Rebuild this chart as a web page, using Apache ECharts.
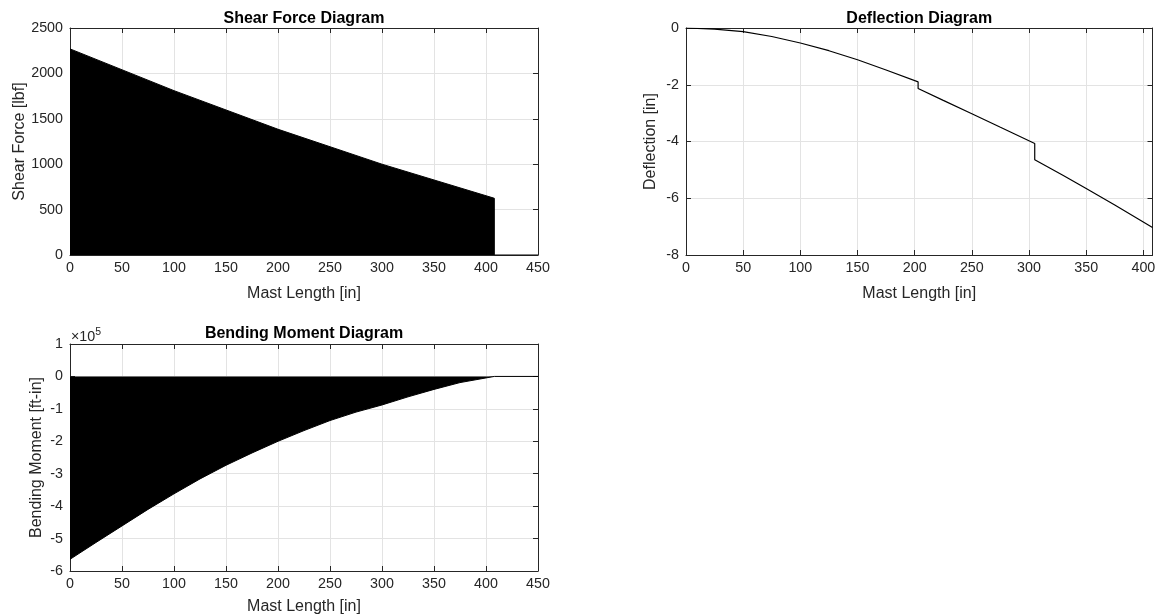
<!DOCTYPE html>
<html>
<head>
<meta charset="utf-8">
<script src="https://cdn.jsdelivr.net/npm/echarts@6/dist/echarts.min.js"></script>
<style>
html,body{margin:0;padding:0;background:#fff;}
#c{width:1161px;height:616px;}
</style>
</head>
<body>
<div id="c"></div>
<script>
// ---- data ----
const shearX = [0, 100, 200, 300, 408, 408, 450];
const shearV = [2270, 1810, 1385, 1000, 625, 0, 0];

const deflX = [0, 25, 50, 75, 100, 125, 150, 175, 203, 203, 225, 250, 275, 305, 305, 330, 350, 375, 408];
const deflV = [0, -0.04, -0.13, -0.3, -0.53, -0.8, -1.12, -1.48, -1.9, -2.13, -2.55, -3.02, -3.5, -4.07, -4.64, -5.2, -5.66, -6.24, -7.03];

const momentX = [0, 25, 50, 75, 100, 125, 150, 175, 200, 225, 250, 275, 300, 325, 350, 375, 408, 450];
const momentV = [-564000, -512000, -461000, -410000, -362000, -316000, -274000, -236000, -200000, -167000, -136000, -110000, -88000, -63000, -40000, -19000, 0, 0];

const titles = ['Shear Force Diagram', 'Deflection Diagram', 'Bending Moment Diagram'];
const xName = 'Mast Length [in]';
const yNames = ['Shear Force [lbf]', 'Deflection [in]', 'Bending Moment [ft-in]'];
const momentExponent = 5;

// ---- styling ----
const FONT = '"Liberation Sans", Arial, Helvetica, sans-serif';
const AX = '#262626';
const GRIDC = '#e3e3e3';
const TICKFS = 14.3;
const LABFS = 16;

const grids = [
  {left: 70, top: 28, width: 468, height: 227},
  {left: 686, top: 28, width: 466.5, height: 227},
  {left: 70, top: 344, width: 468, height: 228}
];

function zipXY(xs, ys){ return xs.map((x,i)=>[x, ys[i]]); }

function mainX(gi, max, nameGap){
  return {
    type: 'value', gridIndex: gi, position: 'bottom', min: 0, max: max, interval: 50,
    name: xName, nameLocation: 'middle', nameGap: nameGap,
    nameTextStyle: {fontFamily: FONT, fontSize: LABFS, color: AX},
    axisLine: {show: true, onZero: false, lineStyle: {color: AX, width: 1}},
    axisTick: {show: true, inside: true, length: 5, lineStyle: {color: AX}},
    axisLabel: {show: true, fontFamily: FONT, fontSize: TICKFS, color: AX, margin: 6, showMaxLabel: max % 50 === 0,
      formatter: v => (v % 50 === 0 ? String(v) : '')},
    splitLine: {show: true, lineStyle: {color: GRIDC, width: 1}}
  };
}
function topX(gi, max){
  return {
    type: 'value', gridIndex: gi, position: 'top', min: 0, max: max, interval: 50,
    axisLine: {show: true, onZero: false, lineStyle: {color: AX, width: 1}},
    axisTick: {show: true, inside: true, length: 5, lineStyle: {color: AX}},
    axisLabel: {show: false}, splitLine: {show: false}
  };
}
function mainY(gi, min, max, interval, name, nameGap, fmt){
  return {
    type: 'value', gridIndex: gi, position: 'left', min: min, max: max, interval: interval,
    name: name, nameLocation: 'middle', nameGap: nameGap,
    nameTextStyle: {fontFamily: FONT, fontSize: LABFS, color: AX},
    axisLine: {show: true, onZero: false, lineStyle: {color: AX, width: 1}},
    axisTick: {show: true, inside: true, length: 5, lineStyle: {color: AX}},
    axisLabel: {show: true, fontFamily: FONT, fontSize: TICKFS, color: AX, margin: 7, formatter: fmt},
    splitLine: {show: true, lineStyle: {color: GRIDC, width: 1}}
  };
}
function rightY(gi, min, max, interval){
  return {
    type: 'value', gridIndex: gi, position: 'right', min: min, max: max, interval: interval,
    axisLine: {show: true, onZero: false, lineStyle: {color: AX, width: 1}},
    axisTick: {show: true, inside: true, length: 5, lineStyle: {color: AX}},
    axisLabel: {show: false}, splitLine: {show: false}
  };
}

const chart = echarts.init(document.getElementById('c'), null, {renderer: 'canvas'});
const option = {
  animation: false,
  backgroundColor: '#fff',
  grid: grids.map(g => Object.assign({containLabel: false}, g)),
  xAxis: [
    mainX(0, 450, 31), topX(0, 450),
    mainX(1, 408, 31), topX(1, 408),
    mainX(2, 450, 28), topX(2, 450)
  ],
  yAxis: [
    mainY(0, 0, 2500, 500, yNames[0], 42, v => String(v)), rightY(0, 0, 2500, 500),
    mainY(1, -8, 0, 2, yNames[1], 27, v => String(v)), rightY(1, -8, 0, 2),
    mainY(2, -600000, 100000, 100000, yNames[2], 25, v => String(Math.round(v / Math.pow(10, momentExponent)))), rightY(2, -600000, 100000, 100000)
  ],
  series: [
    {type: 'line', xAxisIndex: 0, yAxisIndex: 0, data: zipXY(shearX, shearV), showSymbol: false, symbol: 'none',
      lineStyle: {color: '#000', width: 1}, areaStyle: {color: '#000', opacity: 1}},
    {type: 'line', xAxisIndex: 2, yAxisIndex: 2, data: zipXY(deflX, deflV), showSymbol: false, symbol: 'none',
      lineStyle: {color: '#000', width: 1.2}},
    {type: 'line', xAxisIndex: 4, yAxisIndex: 4, data: zipXY(momentX, momentV), showSymbol: false, symbol: 'none',
      lineStyle: {color: '#000', width: 1}, areaStyle: {color: '#000', opacity: 1}}
  ],
  graphic: [
    {type: 'text', x: 70 + 468 / 2, y: 18.5, style: {text: titles[0], fontFamily: FONT, fontSize: LABFS, fontWeight: 'bold', fill: '#000', align: 'center', verticalAlign: 'middle'}},
    {type: 'text', x: 686 + 466.5 / 2, y: 18.5, style: {text: titles[1], fontFamily: FONT, fontSize: LABFS, fontWeight: 'bold', fill: '#000', align: 'center', verticalAlign: 'middle'}},
    {type: 'text', x: 70 + 468 / 2, y: 334, style: {text: titles[2], fontFamily: FONT, fontSize: LABFS, fontWeight: 'bold', fill: '#000', align: 'center', verticalAlign: 'middle'}},
    {type: 'text', x: 71, y: 337, style: {
      text: '{a|×10}{b|' + momentExponent + '}', verticalAlign: 'middle', align: 'left',
      rich: {
        a: {fontFamily: FONT, fontSize: TICKFS, fill: AX, color: AX},
        b: {fontFamily: FONT, fontSize: 10.5, fill: AX, color: AX, verticalAlign: 'top', padding: [0, 0, 10, 0]}
      }}}
  ]
};
chart.setOption(option);
</script>
</body>
</html>
